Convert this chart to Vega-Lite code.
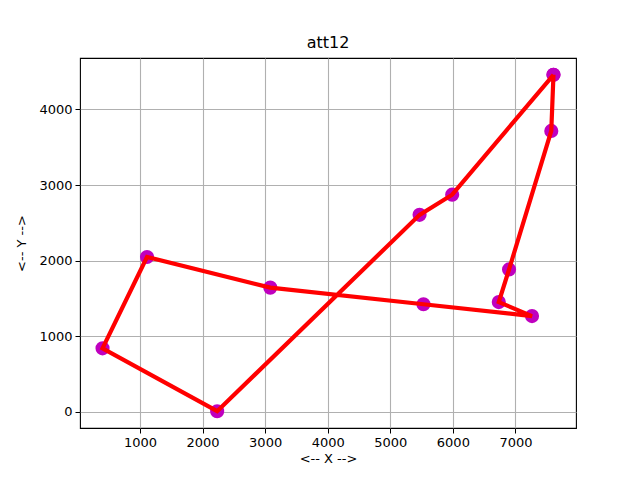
{
  "$schema": "https://vega.github.io/schema/vega-lite/v6.json",
  "autosize": "none",
  "width": 496,
  "height": 370,
  "padding": {"left": 80, "top": 58, "right": 64, "bottom": 52},
  "background": "white",
  "title": {"text": "att12", "fontSize": 16, "fontWeight": "normal", "font": "DejaVu Sans", "offset": 7, "color": "black"},
  "config": {
    "view": {"stroke": "black", "strokeWidth": 1.1},
    "axis": {
      "labelFont": "DejaVu Sans", "titleFont": "DejaVu Sans",
      "labelFontSize": 13, "titleFontSize": 13, "titleFontWeight": "normal",
      "labelColor": "black", "titleColor": "black",
      "tickColor": "black", "tickSize": 5, "domain": false,
      "gridColor": "#b0b0b0", "gridWidth": 1.1, "gridOpacity": 1
    }
  },
  "data": {
    "values": [
      {"i": 0, "x": 7608, "y": 4458},
      {"i": 1, "x": 7573, "y": 3716},
      {"i": 2, "x": 6898, "y": 1885},
      {"i": 3, "x": 6734, "y": 1453},
      {"i": 4, "x": 7265, "y": 1268},
      {"i": 5, "x": 5530, "y": 1424},
      {"i": 6, "x": 3082, "y": 1644},
      {"i": 7, "x": 1112, "y": 2049},
      {"i": 8, "x": 401, "y": 841},
      {"i": 9, "x": 2233, "y": 10},
      {"i": 10, "x": 5468, "y": 2606},
      {"i": 11, "x": 5989, "y": 2873},
      {"i": 12, "x": 7608, "y": 4458}
    ]
  },
  "encoding": {
    "x": {"field": "x", "type": "quantitative", "title": "<-- X -->",
      "scale": {"domain": [41, 7968], "nice": false, "zero": false},
      "axis": {"values": [1000, 2000, 3000, 4000, 5000, 6000, 7000], "format": "d", "labelPadding": 3, "titlePadding": 3}},
    "y": {"field": "y", "type": "quantitative", "title": "<-- Y -->",
      "scale": {"domain": [-212, 4680], "nice": false, "zero": false},
      "axis": {"values": [0, 1000, 2000, 3000, 4000], "format": "d", "labelPadding": 3, "titlePadding": 10}}
  },
  "layer": [
    {"mark": {"type": "point", "filled": true, "color": "#bf00bf", "opacity": 1, "size": 200}},
    {"mark": {"type": "line", "color": "red", "strokeWidth": 4.2}, "encoding": {"order": {"field": "i", "type": "quantitative"}}}
  ]
}
